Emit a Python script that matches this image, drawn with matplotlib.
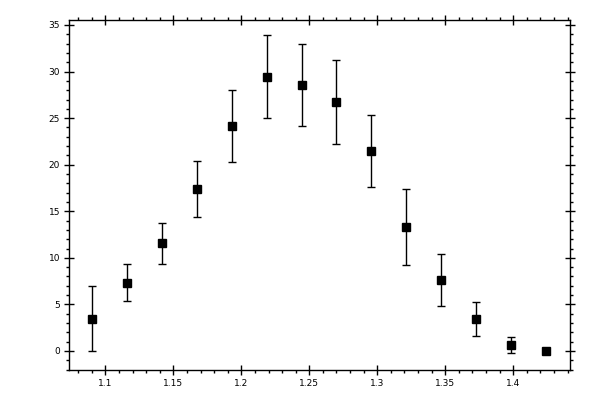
import matplotlib
matplotlib.use("Agg")
import matplotlib.pyplot as plt
from matplotlib.ticker import MultipleLocator, FuncFormatter

x = [1.0902, 1.1160, 1.1417, 1.1674, 1.1932, 1.2189, 1.2446, 1.2696,
     1.2954, 1.3211, 1.3468, 1.3726, 1.3983, 1.4240]
y = [3.40, 7.27, 11.56, 17.36, 24.12, 29.38, 28.52, 26.70,
     21.44, 13.28, 7.59, 3.40, 0.61, 0.0]
y_hi = [6.95, 9.31, 13.71, 20.37, 27.99, 33.89, 32.93, 31.21,
        25.31, 17.36, 10.38, 5.23, 1.47, 0.0]
y_lo = [0.0, 5.34, 9.31, 14.35, 20.26, 24.98, 24.12, 22.19,
        17.58, 9.20, 4.80, 1.58, -0.25, 0.0]

err_lo = [a - b for a, b in zip(y, y_lo)]
err_hi = [b - a for a, b in zip(y, y_hi)]

fig = plt.figure(figsize=(6, 4), dpi=100)
ax = fig.add_axes([69/600, 30/400, 501/600, 350.5/400])

ax.errorbar(x, y, yerr=[err_lo, err_hi], fmt='s', color='black',
            markersize=5.8, elinewidth=1.0, capsize=2.6, capthick=1.0,
            ecolor='black')

ax.set_xlim(1.0733, 1.4417)
ax.set_ylim(-2.04, 35.59)

ax.xaxis.set_major_locator(MultipleLocator(0.05))
ax.xaxis.set_minor_locator(MultipleLocator(0.01))
ax.yaxis.set_major_locator(MultipleLocator(5))
ax.yaxis.set_minor_locator(MultipleLocator(1))
ax.xaxis.set_major_formatter(FuncFormatter(lambda v, p: '%g' % round(v, 3)))
ax.yaxis.set_major_formatter(FuncFormatter(lambda v, p: '%g' % round(v, 3)))

ax.tick_params(which='major', direction='inout', length=7, width=1,
               top=True, right=True, labelsize=6.5, pad=3, colors='black')
ax.tick_params(which='minor', direction='out', length=2.5, width=1,
               top=True, right=True)
for s in ax.spines.values():
    s.set_linewidth(1.0)

fig.savefig("out.png", dpi=100)
